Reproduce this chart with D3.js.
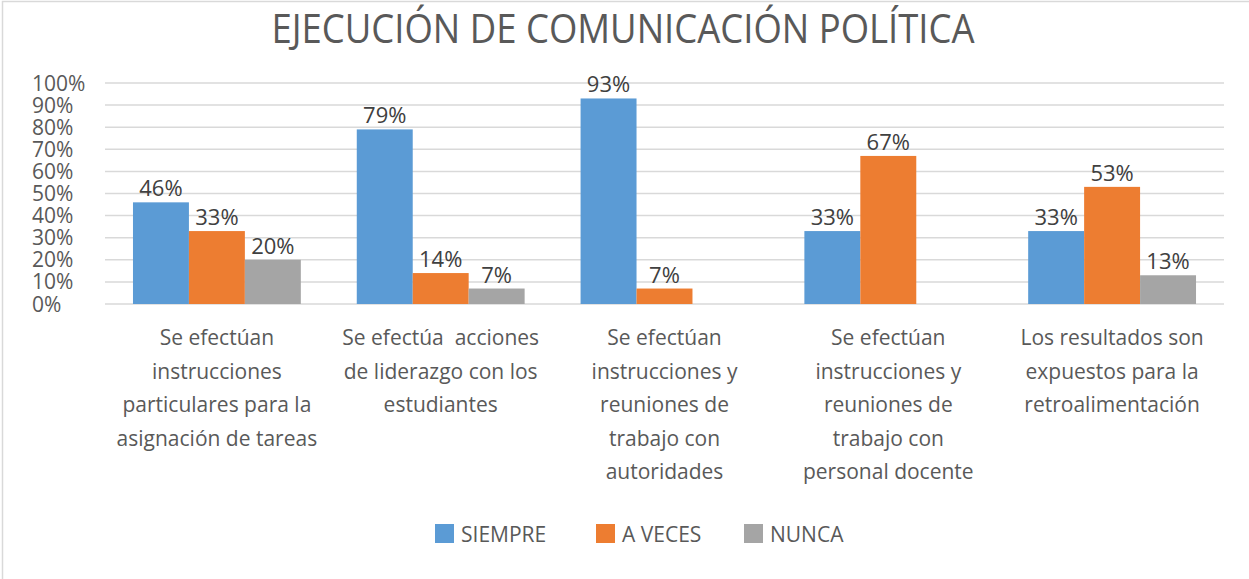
<!DOCTYPE html>
<html lang="es">
<head>
    <meta charset="UTF-8">
    <title>Ejecución de comunicación política</title>
    <style>
        body { margin: 0; background: #fff; }
        svg text { font-family: "Open Sans", sans-serif; }
    </style>
    <script src="https://d3js.org/d3.v7.min.js"></script>
</head>
<body>
<svg id="chart" width="1249" height="579"></svg>

<script>
    // data
    const categories = [
        ["Se efectúan", "instrucciones", "particulares para la", "asignación de tareas"],
        ["Se efectúa  acciones", "de liderazgo con los", "estudiantes"],
        ["Se efectúan", "instrucciones y", "reuniones de", "trabajo con", "autoridades"],
        ["Se efectúan", "instrucciones y", "reuniones de", "trabajo con", "personal docente"],
        ["Los resultados son", "expuestos para la", "retroalimentación"]
    ];
    const seriesNames = ["SIEMPRE", "A VECES", "NUNCA"];
    const siempre = [46, 79, 93, 33, 33];
    const aVeces = [33, 14, 7, 67, 53];
    const nunca = [20, 7, null, null, 13];
    const yTicks = [0, 10, 20, 30, 40, 50, 60, 70, 80, 90, 100];
    const title = "EJECUCIÓN DE COMUNICACIÓN POLÍTICA";

    const colors = ["#5B9BD5", "#ED7D31", "#A5A5A5"];
    const seriesValues = [siempre, aVeces, nunca];

    const svg = d3.select("#chart");
    const plot = {left: 105, right: 1224, top: 83, bottom: 304};

    // chart border (only top and left are inside the picture)
    svg.append("rect")
        .attr("x", 2.5).attr("y", 1.5)
        .attr("width", 1300).attr("height", 700)
        .attr("fill", "none")
        .attr("stroke", "#d9d9d9")
        .attr("stroke-width", 1.5);

    svg.append("text")
        .attr("x", 623).attr("y", 43)
        .attr("text-anchor", "middle")
        .attr("font-size", 41)
        .attr("fill", "#595959")
        .attr("textLength", 703)
        .attr("lengthAdjust", "spacingAndGlyphs")
        .text(title);

    const idx = d3.range(categories.length);
    const x0 = d3.scaleBand()
        .domain(idx)
        .range([plot.left, plot.right])
        .paddingInner(0.25)
        .paddingOuter(0.125);
    const x1 = d3.scaleBand()
        .domain(d3.range(seriesNames.length))
        .range([0, x0.bandwidth()]);
    const y = d3.scaleLinear().domain([0, 100]).range([plot.bottom, plot.top]);

    // gridlines
    svg.append("g")
        .selectAll("line")
        .data(yTicks)
        .join("line")
        .attr("x1", plot.left).attr("x2", plot.right)
        .attr("y1", d => y(d)).attr("y2", d => y(d))
        .attr("stroke", "#d9d9d9")
        .attr("stroke-width", 1.5);

    // y labels
    svg.append("g")
        .selectAll("text")
        .data(yTicks)
        .join("text")
        .attr("x", 32)
        .attr("y", d => y(d))
        .attr("dy", "0.36em")
        .attr("font-size", 21)
        .attr("fill", "#595959")
        .text(d => d + "%");

    // bars
    const rows = [];
    idx.forEach(i => {
        seriesValues.forEach((vals, s) => {
            if (vals[i] != null) rows.push({i: i, s: s, v: vals[i]});
        });
    });

    const bars = svg.append("g");
    bars.selectAll("rect")
        .data(rows)
        .join("rect")
        .attr("x", d => x0(d.i) + x1(d.s))
        .attr("y", d => y(d.v))
        .attr("width", x1.bandwidth())
        .attr("height", d => y(0) - y(d.v))
        .attr("fill", d => colors[d.s]);

    bars.selectAll("text")
        .data(rows)
        .join("text")
        .attr("x", d => x0(d.i) + x1(d.s) + x1.bandwidth() / 2)
        .attr("y", d => y(d.v) - 6)
        .attr("text-anchor", "middle")
        .attr("font-size", 22)
        .attr("fill", "#404040")
        .text(d => d.v + "%");

    // category labels
    const cats = svg.append("g");
    categories.forEach((lines, i) => {
        cats.append("text")
            .attr("text-anchor", "middle")
            .attr("font-size", 21)
            .attr("fill", "#595959")
            .style("white-space", "pre")
            .selectAll("tspan")
            .data(lines)
            .join("tspan")
            .attr("x", x0(i) + x0.bandwidth() / 2)
            .attr("y", (d, k) => 345 + k * 33.5)
            .text(d => d);
    });

    // legend
    const legendX = [435, 596, 744];
    const legend = svg.append("g")
        .selectAll("g")
        .data(seriesNames)
        .join("g")
        .attr("transform", (d, i) => `translate(${legendX[i]},524)`);
    legend.append("rect")
        .attr("width", 19).attr("height", 19)
        .attr("fill", (d, i) => colors[i]);
    legend.append("text")
        .attr("x", 26).attr("y", 10)
        .attr("dy", "0.36em")
        .attr("font-size", 21)
        .attr("fill", "#595959")
        .text(d => d);
</script>
</body>
</html>
